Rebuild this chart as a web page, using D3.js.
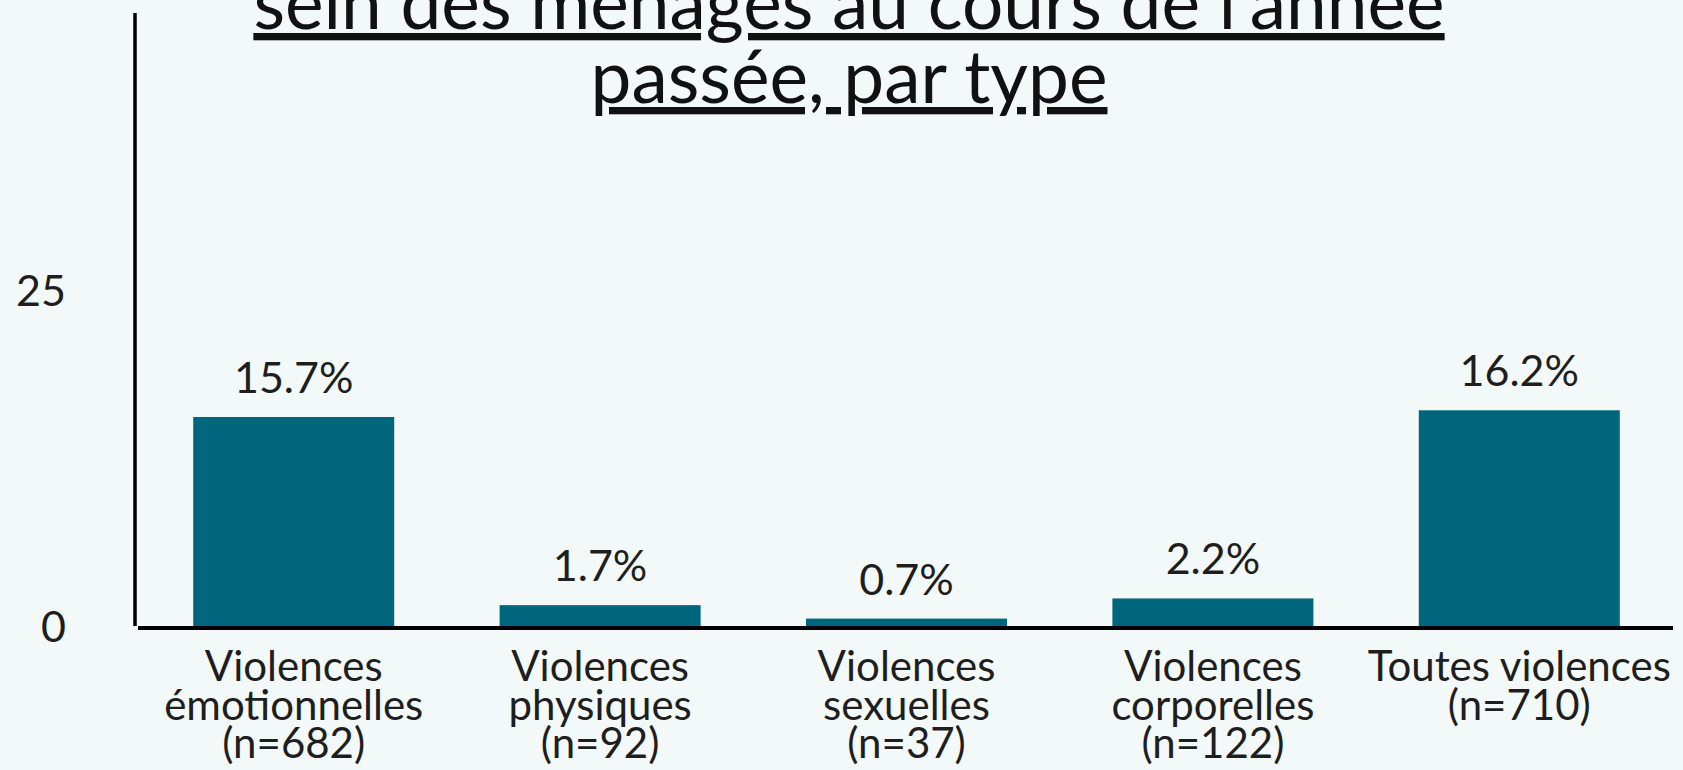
<!DOCTYPE html>
<html>
<head>
<meta charset="utf-8">
<script src="https://cdn.jsdelivr.net/npm/d3@7"></script>
<style>
  html, body { margin: 0; padding: 0; background: #f3f8f8; }
  svg { display: block; font-family: Lato, "Noto Sans", sans-serif; }
</style>
</head>
<body>
<svg id="chart"></svg>
<script>
const width = 1683;
const height = 770;
const bar_color = "#00667b";
const text_color = "#1e1e1e";

// data
const titleLines = ["sein des ménages au cours de l'année", "passée, par type"];
const categories = ["emo", "phys", "sex", "corp", "all"];
const categoryLabels = [
  ["Violences", "émotionnelles", "(n=682)"],
  ["Violences", "physiques", "(n=92)"],
  ["Violences", "sexuelles", "(n=37)"],
  ["Violences", "corporelles", "(n=122)"],
  ["Toutes violences", "(n=710)"]
];
const values = [15.7, 1.7, 0.7, 2.2, 16.2];
const yTicks = [0, 25];

var svg = d3.select("#chart")
  .attr("width", width)
  .attr("height", height);

svg.append("rect")
  .attr("width", width)
  .attr("height", height)
  .attr("fill", "#f3f8f8");

var x = d3.scaleBand()
  .domain(categories)
  .range([135, 1678])
  .paddingInner(0.344)
  .paddingOuter(0.19);

var y = d3.scaleLinear()
  .domain([0, 25])
  .range([628, 292]);

// title (underlined, top line cut by the frame)
svg.append("g")
  .selectAll("text")
  .data(titleLines)
  .enter().append("text")
  .attr("x", 849)
  .attr("y", (d, i) => 29 + i * 74)
  .attr("text-anchor", "middle")
  .style("font-size", "73px")
  .style("text-decoration", "underline")
  .attr("fill", "#111")
  .text(d => d);

// bars
svg.append("g")
  .selectAll("rect")
  .data(values)
  .enter().append("rect")
  .attr("x", (d, i) => x(categories[i]))
  .attr("width", x.bandwidth())
  .attr("y", d => y(d))
  .attr("height", d => y(0) - y(d))
  .attr("fill", bar_color);

// value labels
svg.append("g")
  .selectAll("text")
  .data(values)
  .enter().append("text")
  .attr("x", (d, i) => x(categories[i]) + x.bandwidth() / 2)
  .attr("y", d => y(d) - 24)
  .attr("text-anchor", "middle")
  .style("font-size", "43px")
  .attr("fill", text_color)
  .text(d => d3.format(".1f")(d) + "%");

// y axis
var yAxis = svg.append("g")
  .attr("transform", "translate(135,0)")
  .call(d3.axisLeft(y).tickValues(yTicks).tickSize(0).tickPadding(69).tickFormat(d3.format("d")));
yAxis.select(".domain").remove();
yAxis.selectAll("text")
  .style("font-family", "Lato, 'Noto Sans', sans-serif")
  .style("font-size", "43px")
  .attr("fill", text_color);

svg.append("line")
  .attr("x1", 135).attr("x2", 135)
  .attr("y1", 13).attr("y2", y(0) - 2)
  .attr("stroke", "#000")
  .attr("stroke-width", 3.5);

// x axis
var xAxis = svg.append("g")
  .attr("transform", "translate(0," + y(0) + ")")
  .call(d3.axisBottom(x).tickSize(0).tickFormat(""));
xAxis.select(".domain").remove();

svg.append("line")
  .attr("x1", 138).attr("x2", 1673)
  .attr("y1", y(0)).attr("y2", y(0))
  .attr("stroke", "#000")
  .attr("stroke-width", 4);

xAxis.selectAll(".tick")
  .each(function (d, i) {
    var t = d3.select(this).append("text")
      .attr("text-anchor", "middle")
      .attr("fill", text_color)
      .style("font-family", "Lato, 'Noto Sans', sans-serif")
      .style("font-size", "42px");
    categoryLabels[i].forEach((line, j) => {
      t.append("tspan")
        .attr("x", 0)
        .attr("y", 53 + j * 38.5)
        .text(line);
    });
  });
</script>
</body>
</html>
